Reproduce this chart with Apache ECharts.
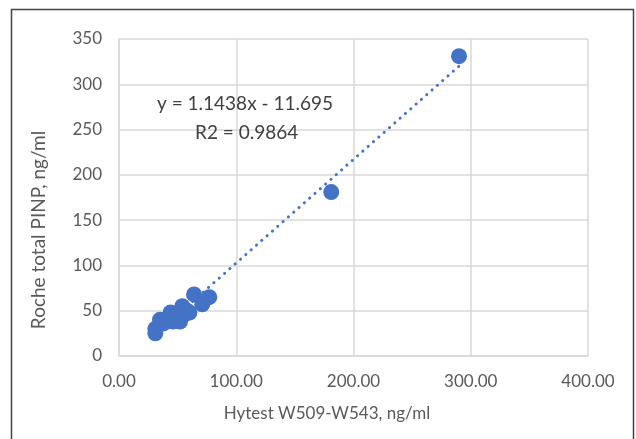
<!DOCTYPE html>
<html>
<head>
<meta charset="utf-8">
<script src="https://cdn.jsdelivr.net/npm/echarts@6/dist/echarts.min.js"></script>
<style>
html,body{margin:0;padding:0;background:#fff}
#chart{width:636px;height:439px}
</style>
</head>
<body>
<div id="chart"></div>
<script>
// measured pairs: Hytest (x) vs Roche (y)
const hytest = [31, 31, 35, 38, 42, 44, 46, 48, 50, 52, 53, 54, 56, 58, 60, 64, 71, 77, 181, 290]
const roche = [25, 30, 40, 36, 42, 48, 38, 44, 40, 38, 50, 55, 46, 50, 48, 68, 57, 65, 181, 331]
const slope = 1.1438
const intercept = -11.695
const xTicks = [0, 100, 200, 300, 400]
const yTicks = [0, 50, 100, 150, 200, 250, 300, 350]

const points = hytest.map((x, i) => [x, roche[i]])
const xMin = Math.min(...hytest)
const xMax = Math.max(...hytest)
const trend = [[xMin, slope * xMin + intercept], [xMax, slope * xMax + intercept]]

const font = 'Lato'
const grey = '#595959'
const chart = echarts.init(document.getElementById('chart'))
chart.setOption({
  animation: false,
  grid: { left: 119, right: 48, top: 39, bottom: 83 },
  graphic: [
    {
      type: 'rect', silent: true,
      shape: { x: 11.5, y: 9.5, width: 622, height: 440 },
      style: { fill: 'none', stroke: '#444', lineWidth: 1.5 }
    },
    {
      type: 'text', left: 157, top: 94, z: 10,
      style: { text: 'y = 1.1438x - 11.695', font: '19px Lato', fill: '#404040' }
    },
    {
      type: 'text', left: 195, top: 123, z: 10,
      style: { text: 'R2 = 0.9864', font: '19px Lato', fill: '#404040' }
    },
    // axis titles
    {
      type: 'text', x: 327, y: 414, z: 10,
      style: { text: 'Hytest W509-W543, ng/ml', font: '17px Lato', fill: grey, align: 'center', verticalAlign: 'middle' }
    },
    {
      type: 'text', x: 39, y: 230, rotation: Math.PI / 2, z: 10,
      style: { text: 'Roche total PINP, ng/ml', font: '19px Lato', fill: grey, align: 'center', verticalAlign: 'middle' }
    }
  ],
  xAxis: {
    type: 'value', min: xTicks[0], max: xTicks[xTicks.length - 1], interval: 100,
    axisLine: { show: true, lineStyle: { color: '#d9d9d9', width: 1.5 } },
    axisTick: { show: false },
    axisLabel: { color: grey, fontSize: 17, fontFamily: font, margin: 17, formatter: v => v.toFixed(2) },
    splitLine: { show: true, lineStyle: { color: '#d9d9d9', width: 1.5 } }
  },
  yAxis: {
    type: 'value', min: yTicks[0], max: yTicks[yTicks.length - 1], interval: 50,
    axisLine: { show: true, lineStyle: { color: '#d9d9d9', width: 1.5 } },
    axisTick: { show: false },
    axisLabel: { color: grey, fontSize: 17, fontFamily: font, margin: 17 },
    splitLine: { show: true, lineStyle: { color: '#d9d9d9', width: 1.5 } }
  },
  series: [
    {
      type: 'line', data: trend, symbol: 'none', z: 1,
      lineStyle: { color: '#4472c4', width: 3, type: [0.1, 7], cap: 'round' }
    },
    {
      type: 'scatter', data: points, symbolSize: 16, z: 2,
      itemStyle: { color: '#4472c4', opacity: 1 }
    }
  ]
})
</script>
</body>
</html>
